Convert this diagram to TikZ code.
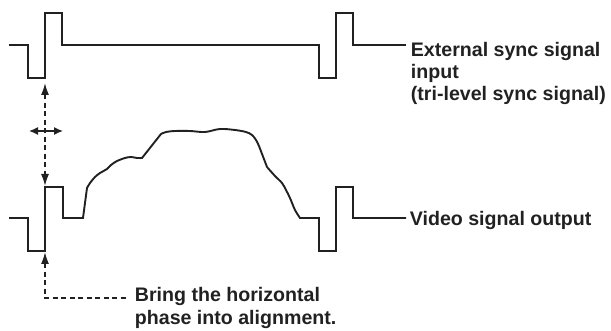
\documentclass[tikz,border=0pt]{standalone}
\usepackage{fontspec}
\setmainfont{Liberation Sans}
\usepackage{tikz}
\usetikzlibrary{arrows.meta}
\definecolor{ink}{rgb}{0.13,0.13,0.13}

\begin{document}
\begin{tikzpicture}[
            x = 1pt, y = -1pt, % image units
            > = {Latex[length=12pt,width=8pt]}, % arrow head style
            line width = 1.8pt,
            line join = miter
        ]

        \tikzstyle{signal}=[
            draw = ink,
            line width = 1.9pt
        ]
        \tikzstyle{guide}=[
            draw = ink,
            line width = 1.6pt,
            dash pattern = on 5pt off 3.5pt
        ]
        \tikzstyle{label}=[
            inner sep = 0pt,
            anchor = base west,
            align = left,
            text = ink,
            font = \fontsize{19.6}{22}\selectfont\bfseries
        ]

        \useasboundingbox (0,0) rectangle (611,331);

% reference sync
        \draw[signal] (9,45) -- (28,45) -- (28,78) -- (45,78) -- (45,13) -- (62,13) -- (62,45)
            -- (319,45) -- (319,78) -- (336,78) -- (336,13) -- (353,13) -- (353,45) -- (406,45);
        \coordinate (SyncLow) at (45,78);

% video output
        \draw[signal] (9,218) -- (28,218) -- (28,251) -- (45,251) -- (45,187) -- (63,187) -- (63,218)
            -- (83,218) -- (87,188)
            plot[smooth, tension=0.55] coordinates {(87,188) (90,183) (95,177) (100,173) (107,169)
                (111,165) (117,161) (125,158) (131,157) (137,158) (142,158)}
            -- (161,134)
            plot[smooth, tension=0.55] coordinates {(161,134) (166,132) (175,131) (190,131)
                (205,132) (220,129) (235,130) (246,132) (252,135) (256,140) (259,146)}
            -- (267,167)
            plot[smooth, tension=0.55] coordinates {(267,167) (275,176) (282,183) (286,190)
                (290,198) (295,210) (300,218)}
            -- (319,218) -- (319,251) -- (336,251) -- (336,187) -- (353,187) -- (353,218) -- (406,218);
        \coordinate (VideoHigh) at (45,187);
        \coordinate (VideoLow) at (45,251);

% labels (base is on the last line)
        \node[label] (Ext) at (410,101) {External sync signal\\input\\(tri-level sync signal)};
        \node[label] (Out) at (409,226) {Video signal output};
        \node[label] (Phase) at (134,324) {Bring the horizontal\\phase into alignment.};

% phase guides
        \draw[guide, <->, shorten < = 5pt, shorten > = 1pt] (SyncLow) -- (VideoHigh);
        \draw[<->, >={Latex[length=9pt,width=8pt]}, line width=1.4pt, draw=ink] (29,131) -- (63,131);
        \coordinate (Bend) at (45,298);
        \draw[guide, <-, shorten < = 1pt] (VideoLow) -- (Bend) -- (126,298);

  \end{tikzpicture}
\end{document}
